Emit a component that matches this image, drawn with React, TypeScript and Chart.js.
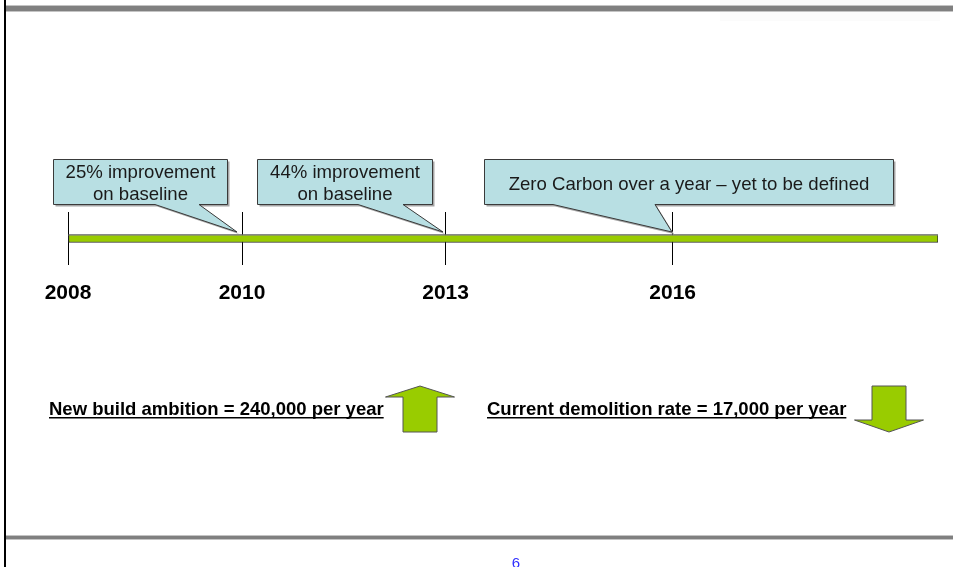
import React, { useEffect, useRef } from 'react';
import { Chart, registerables } from 'chart.js';

Chart.register(...registerables);

// ---- data ----
const years = ['2008', '2010', '2013', '2016'];
const yearMarks = [0, 20, 43.4, 69.5]; // milestone position along the timeline (0–100)
const timelineSpan = [0, 100];
const milestoneTexts = [
  ['25% improvement', 'on baseline'],
  ['44% improvement', 'on baseline'],
  ['Zero Carbon over a year \u2013 yet to be defined'],
];
const targetLabels = [
  'New build ambition = 240,000 per year',
  'Current demolition rate = 17,000 per year',
];
const targetDirections = ['up', 'down'];
const pageNumber = '6';

// ---- layout / style ----
const FONT = '"Liberation Sans", Arial, Helvetica, sans-serif';
const GREEN = '#99cc00';
const calloutLayout = [
  { tipDx: -5, left: -184, right: -10, baseL: -82, baseR: -38 },
  { tipDx: -3, left: -186, right: -11, baseL: -85, baseR: -40 },
  { tipDx: -1, left: -188, right: 221, baseL: -119, baseR: -17 },
];
const targetLayout = [
  { textX: 49, arrowX: 420 },
  { textX: 487, arrowX: 889 },
];

function drawCallout(ctx: CanvasRenderingContext2D, tipX: number, tipY: number, top: number, bottom: number, l: any, lines: string[]) {
  const L = Math.round(tipX + l.left) + 0.5;
  const R = Math.round(tipX + l.right) + 0.5;
  const T = top + 0.5;
  const B = bottom + 0.5;
  const path = (dx: number, dy: number) => {
    ctx.beginPath();
    ctx.moveTo(L + dx, T + dy);
    ctx.lineTo(R + dx, T + dy);
    ctx.lineTo(R + dx, B + dy);
    ctx.lineTo(tipX + l.baseR + dx, B + dy);
    ctx.lineTo(tipX + dx, tipY + dy);
    ctx.lineTo(tipX + l.baseL + dx, B + dy);
    ctx.lineTo(L + dx, B + dy);
    ctx.closePath();
  };
  // shadow
  path(2, 2);
  ctx.fillStyle = '#a6a6a6';
  ctx.fill();
  path(0, 0);
  ctx.fillStyle = '#b8dfe3';
  ctx.fill();
  ctx.strokeStyle = '#3a3a3a';
  ctx.lineWidth = 1;
  ctx.stroke();
  ctx.fillStyle = '#1a1a1a';
  ctx.font = `18.6px ${FONT}`;
  ctx.textAlign = 'center';
  ctx.textBaseline = 'alphabetic';
  const cx = (L + R) / 2;
  if (lines.length === 1) {
    ctx.fillText(lines[0], cx, top + 31);
  } else {
    lines.forEach((s, i) => ctx.fillText(s, cx, top + 19 + i * 22));
  }
}

function drawArrow(ctx: CanvasRenderingContext2D, cx: number, dir: string) {
  const top = 386;
  const bottom = 432;
  const headH = dir === 'up' ? 11 : 12;
  const halfHead = 34.5;
  const halfShaft = 17;
  ctx.beginPath();
  if (dir === 'up') {
    ctx.moveTo(cx, top);
    ctx.lineTo(cx + halfHead, top + headH);
    ctx.lineTo(cx + halfShaft, top + headH);
    ctx.lineTo(cx + halfShaft, bottom);
    ctx.lineTo(cx - halfShaft, bottom);
    ctx.lineTo(cx - halfShaft, top + headH);
    ctx.lineTo(cx - halfHead, top + headH);
  } else {
    ctx.moveTo(cx, bottom);
    ctx.lineTo(cx + halfHead, bottom - headH);
    ctx.lineTo(cx + halfShaft, bottom - headH);
    ctx.lineTo(cx + halfShaft, top);
    ctx.lineTo(cx - halfShaft, top);
    ctx.lineTo(cx - halfShaft, bottom - headH);
    ctx.lineTo(cx - halfHead, bottom - headH);
  }
  ctx.closePath();
  ctx.fillStyle = GREEN;
  ctx.fill();
  ctx.strokeStyle = '#555555';
  ctx.lineWidth = 1;
  ctx.stroke();
}

const slidePlugin = {
  id: 'slide',
  beforeDraw(chart: any) {
    const ctx = chart.ctx as CanvasRenderingContext2D;
    const W = chart.width;
    const H = chart.height;
    ctx.save();
    ctx.fillStyle = '#ffffff';
    ctx.fillRect(0, 0, W, H);
    ctx.fillStyle = '#fbfbfb';
    ctx.fillRect(720, 0, 220, 21);
    // top band
    ctx.fillStyle = '#c4c4c4';
    ctx.fillRect(6, 5, W - 6, 7);
    ctx.fillStyle = '#808080';
    ctx.fillRect(6, 6, W - 6, 5);
    // bottom band
    ctx.fillStyle = '#c4c4c4';
    ctx.fillRect(6, 535, W - 6, 5);
    ctx.fillStyle = '#808080';
    ctx.fillRect(6, 536, W - 6, 3);
    // left rule
    ctx.fillStyle = '#000000';
    ctx.fillRect(4, 0, 2, H);
    ctx.restore();
  },
  afterDatasetsDraw(chart: any) {
    // light top edge of the timeline bar
    const ctx = chart.ctx as CanvasRenderingContext2D;
    const meta = chart.getDatasetMeta(0);
    const el = meta.data[0] as any;
    if (!el) return;
    const { x, base, y, height } = el.getProps(['x', 'base', 'y', 'height'], true);
    ctx.save();
    ctx.fillStyle = '#8c8c8c';
    ctx.fillRect(Math.min(x, base), y - height / 2, Math.abs(x - base), 1);
    ctx.restore();
  },
  afterDraw(chart: any) {
    const ctx = chart.ctx as CanvasRenderingContext2D;
    const xs = chart.scales.x;
    const ys = chart.scales.y;
    const barMid = ys.getPixelForValue(0);
    const tipY = barMid - 6.5;
    const boxBottom = barMid - 34.5;
    const boxTop = barMid - 79.5;
    ctx.save();
    milestoneTexts.forEach((lines, i) => {
      const l = calloutLayout[i];
      const tx = Math.round(xs.getPixelForValue(yearMarks[i + 1])) + l.tipDx;
      drawCallout(ctx, tx, tipY, boxTop, boxBottom, l, lines);
    });
    // targets
    targetLabels.forEach((s, i) => {
      const lay = targetLayout[i];
      ctx.font = `bold 18.5px ${FONT}`;
      ctx.fillStyle = '#000000';
      ctx.textAlign = 'left';
      ctx.textBaseline = 'alphabetic';
      ctx.fillText(s, lay.textX, 415);
      const w = ctx.measureText(s).width;
      ctx.fillRect(lay.textX, 417, w, 1.5);
      drawArrow(ctx, lay.arrowX, targetDirections[i]);
    });
    // page number
    ctx.fillStyle = '#2f2fff';
    ctx.font = `15px ${FONT}`;
    ctx.textAlign = 'center';
    ctx.textBaseline = 'top';
    ctx.fillText(pageNumber, 516, 556);
    ctx.restore();
  },
};

export default function App() {
  const ref = useRef<HTMLCanvasElement | null>(null);
  useEffect(() => {
    if (!ref.current) return;
    const chart = new Chart(ref.current, {
      type: 'bar',
      data: {
        labels: ['Timeline'],
        datasets: [
          {
            label: 'Timeline',
            data: [timelineSpan as any],
            backgroundColor: GREEN,
            borderColor: '#2a2a2a',
            borderWidth: 1,
            borderSkipped: false,
            barThickness: 8,
          },
        ],
      },
      options: {
        indexAxis: 'y',
        responsive: false,
        animation: false,
        devicePixelRatio: 1,
        layout: { padding: { left: 68, right: 15, top: 212, bottom: 0 } },
        plugins: { legend: { display: false }, tooltip: { enabled: false } },
        scales: {
          x: {
            type: 'linear',
            min: timelineSpan[0],
            max: timelineSpan[1],
            z: 1,
            afterBuildTicks: (scale: any) => {
              scale.ticks = yearMarks.map((v) => ({ value: v }));
            },
            afterFit: (scale: any) => {
              scale.height = 302;
            },
            grid: { color: '#000000', lineWidth: 1, drawTicks: false },
            border: { display: false },
            ticks: {
              autoSkip: false,
              maxRotation: 0,
              padding: 16,
              color: '#000000',
              font: { family: FONT, size: 21, weight: 'bold' },
              callback: (_v: any, i: number) => years[i],
            },
          },
          y: { display: false },
        },
      },
      plugins: [slidePlugin],
    });
    return () => chart.destroy();
  }, []);
  return (
    <div style={{ position: 'fixed', left: 0, top: 0, width: 953, height: 567 }}>
      <canvas ref={ref} width={953} height={567} style={{ width: 953, height: 567, display: 'block' }} />
    </div>
  );
}
